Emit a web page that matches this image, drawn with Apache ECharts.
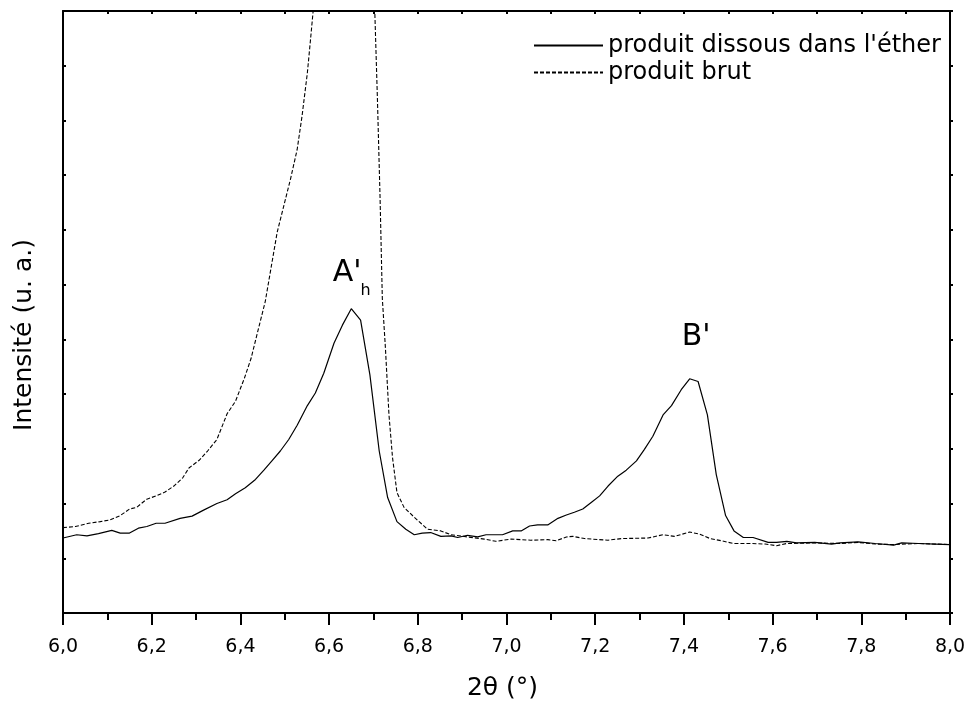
<!DOCTYPE html>
<html>
<head>
<meta charset="utf-8">
<script src="https://cdn.jsdelivr.net/npm/echarts@6/dist/echarts.min.js"></script>
<style>
html,body{margin:0;padding:0;background:#fff;}
#chart{width:969px;height:706px;}
</style>
</head>
<body>
<div id="chart"></div>
<script>
// 2θ positions and intensities, "produit dissous dans l'éther" (solid)
var thetaEther = [6.000,6.031,6.054,6.080,6.110,6.129,6.150,6.170,6.189,6.210,6.230,6.264,6.291,6.317,6.347,6.370,6.389,6.411,6.434,6.453,6.472,6.490,6.509,6.528,6.551,6.569,6.588,6.611,6.630,6.650,6.671,6.692,6.713,6.732,6.753,6.773,6.792,6.810,6.829,6.852,6.875,6.890,6.912,6.935,6.954,6.991,7.014,7.033,7.052,7.070,7.093,7.116,7.135,7.153,7.172,7.191,7.210,7.229,7.251,7.270,7.293,7.311,7.330,7.353,7.372,7.394,7.413,7.432,7.453,7.473,7.494,7.513,7.534,7.556,7.590,7.609,7.632,7.654,7.695,7.733,7.752,7.793,7.831,7.873,7.891,7.929,7.967,8.000];
var intEther = [1.37,1.43,1.41,1.45,1.51,1.46,1.46,1.55,1.58,1.64,1.64,1.73,1.77,1.88,2.00,2.07,2.18,2.29,2.44,2.61,2.79,2.96,3.17,3.43,3.79,4.02,4.38,4.93,5.26,5.56,5.35,4.35,2.96,2.11,1.67,1.53,1.43,1.46,1.47,1.40,1.41,1.38,1.42,1.39,1.43,1.43,1.50,1.50,1.59,1.61,1.61,1.73,1.79,1.84,1.90,2.02,2.14,2.32,2.50,2.61,2.78,2.99,3.23,3.62,3.79,4.08,4.28,4.23,3.62,2.53,1.78,1.50,1.38,1.38,1.29,1.29,1.31,1.28,1.29,1.26,1.28,1.30,1.27,1.24,1.28,1.27,1.26,1.25];
// "produit brut" (dashed)
var thetaBrut = [6.000,6.028,6.058,6.084,6.106,6.129,6.150,6.166,6.189,6.210,6.230,6.250,6.270,6.284,6.307,6.326,6.347,6.370,6.389,6.409,6.424,6.439,6.456,6.483,6.513,6.528,6.539,6.551,6.558,6.580,6.620,6.650,6.680,6.703,6.709,6.715,6.720,6.727,6.735,6.743,6.753,6.769,6.792,6.807,6.822,6.852,6.875,6.912,6.950,6.976,7.010,7.055,7.093,7.112,7.135,7.150,7.176,7.229,7.259,7.319,7.353,7.379,7.413,7.436,7.459,7.485,7.511,7.553,7.583,7.609,7.632,7.695,7.752,7.793,7.831,7.873,7.929,8.000];
var intBrut = [1.56,1.58,1.64,1.67,1.70,1.78,1.90,1.93,2.08,2.14,2.21,2.32,2.47,2.65,2.79,2.96,3.17,3.64,3.87,4.29,4.65,5.14,5.69,6.96,7.93,8.47,9.08,9.87,10.47,12.4,16.0,17.0,14.5,11.0,9.38,7.56,5.75,4.84,3.62,2.84,2.20,1.93,1.75,1.64,1.53,1.50,1.43,1.39,1.35,1.31,1.35,1.33,1.34,1.32,1.39,1.40,1.36,1.33,1.36,1.37,1.43,1.40,1.48,1.44,1.36,1.32,1.27,1.27,1.26,1.23,1.27,1.28,1.27,1.29,1.26,1.25,1.27,1.25];

var seriesNames = ["produit dissous dans l'éther", "produit brut"];
var xTitle = '2θ (°)';
var yTitle = 'Intensité (u. a.)';
// peak annotations anchored in data coordinates
var annoText = ["A'", "h", "B'"];
var annoX = [6.608, 6.671, 7.395];
var annoY = [6.2, 5.88, 5.04];

function pairs(xs, ys){ return xs.map(function(x,i){ return [x, ys[i]]; }); }

var FONT = 'DejaVu Sans';
var chart = echarts.init(document.getElementById('chart'), null, {renderer:'canvas'});
var axisLineStyle = {color:'#000', width:2};
var option = {
  animation:false,
  backgroundColor:'#fff',
  textStyle:{fontFamily:FONT, color:'#000'},
  grid:{left:63, right:19, top:11, bottom:90, containLabel:false},
  legend:{
    show:true, orient:'vertical', left:528, top:27, itemWidth:69, itemHeight:14, itemGap:0,
    itemStyle:{opacity:0, borderWidth:0},
    textStyle:{fontFamily:FONT, fontSize:24, color:'#000', lineHeight:27},
    data:[seriesNames[0], seriesNames[1]]
  },
  xAxis:[{
    type:'value', min:6, max:8, interval:0.2, position:'bottom',
    axisLine:{show:true, onZero:false, lineStyle:axisLineStyle},
    axisTick:{show:true, inside:false, length:12, lineStyle:{color:'#000', width:2}},
    minorTick:{show:true, splitNumber:2, length:7, lineStyle:{color:'#000', width:2}},
    splitLine:{show:false},
    axisLabel:{margin:25, fontFamily:FONT, fontSize:19, color:'#000',
      formatter:function(v){ return v.toFixed(1).replace('.', ','); }},
    name:xTitle, nameLocation:'middle', nameGap:63,
    nameTextStyle:{fontFamily:FONT, fontSize:25, color:'#000', padding:[0,8,0,0]}
  },{
    type:'value', min:6, max:8, interval:0.1, position:'top',
    axisLine:{show:true, onZero:false, lineStyle:axisLineStyle},
    axisTick:{show:true, inside:true, length:3, lineStyle:{color:'#000', width:2}},
    axisLabel:{show:false}, splitLine:{show:false}
  }],
  yAxis:[{
    type:'value', min:0, max:11, interval:1, position:'left',
    axisLine:{show:true, onZero:false, lineStyle:axisLineStyle},
    axisTick:{show:true, inside:true, length:3, lineStyle:{color:'#000', width:2}},
    axisLabel:{show:false}, splitLine:{show:false},
    name:yTitle, nameLocation:'middle', nameGap:26, nameRotate:90,
    nameTextStyle:{fontFamily:FONT, fontSize:25, color:'#000', padding:[0,46,0,0]}
  },{
    type:'value', min:0, max:11, interval:1, position:'right',
    axisLine:{show:true, onZero:false, lineStyle:axisLineStyle},
    axisTick:{show:true, inside:false, length:3, lineStyle:{color:'#000', width:2}},
    axisLabel:{show:false}, splitLine:{show:false}
  }],
  series:[{
    name:seriesNames[0], type:'line', xAxisIndex:0, yAxisIndex:0,
    data:pairs(thetaEther, intEther), symbol:'none', showSymbol:false, clip:true,
    lineStyle:{color:'#000', width:1.2, type:'solid'}, itemStyle:{color:'#000'}
  },{
    name:seriesNames[1], type:'line', xAxisIndex:0, yAxisIndex:0,
    data:pairs(thetaBrut, intBrut), symbol:'none', showSymbol:false, clip:true,
    lineStyle:{color:'#000', width:1.1, type:[4,2]}, itemStyle:{color:'#000'}
  }]
};

var sizes = [30, 16, 30];
chart.setOption(option);
var g = [];
for (var i = 0; i < annoText.length; i++) {
  var p = chart.convertToPixel({gridIndex:0}, [annoX[i], annoY[i]]);
  g.push({type:'text', x:p[0], y:p[1], silent:true,
    style:{text:annoText[i], fill:'#000', font:sizes[i] + 'px "' + FONT + '"',
      textAlign:'left', textVerticalAlign:'middle', verticalAlign:'middle'}});
}
chart.setOption({graphic:g});
</script>
</body>
</html>
